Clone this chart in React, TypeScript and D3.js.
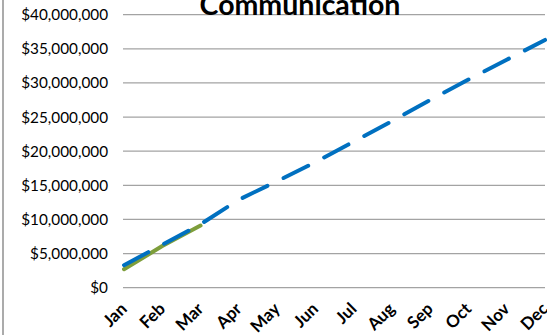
import React from "react";
import * as d3 from "d3";

// Monthly communication budget (USD)
const months = ["Jan", "Feb", "Mar", "Apr", "May", "Jun", "Jul", "Aug", "Sep", "Oct", "Nov", "Dec"];
const forecast = [3.3e6, 6.3e6, 9.3e6, 12.9e6, 15.6e6, 18.4e6, 21.4e6, 24.4e6, 27.5e6, 30.5e6, 33.4e6, 36.3e6];
const actual = [2.7e6, 6.1e6, 9.1e6];
const yTicks = [0, 5e6, 10e6, 15e6, 20e6, 25e6, 30e6, 35e6, 40e6];
const title = "Communication";

const W = 547;
const H = 335;
const FONT = "Lato, 'Open Sans', sans-serif";

export default function App() {
  const x = d3.scalePoint<string>().domain(months).range([124, 545]);
  const y = d3.scaleLinear().domain([0, 40e6]).range([287.7, 14.7]);
  const fmt = d3.format("$,.0f");

  const line = d3
    .line<number>()
    .x((_, i) => x(months[i]) as number)
    .y((d) => y(d));

  const [x0, x1] = x.range();

  return (
    <div style={{ position: "fixed", left: 0, top: 0 }}>
      <svg width={W} height={H} style={{ display: "block", background: "#fff" }}>
        {/* chart frame edge */}
        <line x1={3} x2={3} y1={0} y2={H} stroke="#8f8f8f" strokeWidth={1.5} />

        {/* horizontal gridlines and value labels */}
        {yTicks.map((t) => (
          <g key={t}>
            <line x1={x0 - 1} x2={x1} y1={y(t)} y2={y(t)} stroke="#a3a3a3" strokeWidth={1.2} />
            <text
              x={108}
              y={y(t) + 5.5}
              textAnchor="end"
              fontFamily={FONT}
              fontSize={15.3}
              fill="#000"
            >
              {fmt(t)}
            </text>
          </g>
        ))}

        {/* month labels */}
        {months.map((m) => {
          const px = (x(m) as number) + 4;
          const py = 310;
          return (
            <text
              key={m}
              x={px}
              y={py}
              transform={`rotate(-45 ${px} ${py})`}
              textAnchor="end"
              fontFamily={FONT}
              fontWeight="bold"
              fontSize={17}
              fill="#000"
            >
              {m}
            </text>
          );
        })}

        {/* actual spend */}
        <path
          d={line(actual) ?? ""}
          fill="none"
          stroke="#7e9e3b"
          strokeWidth={4}
          strokeLinecap="round"
          strokeLinejoin="round"
        />

        {/* forecast */}
        <path
          d={line(forecast) ?? ""}
          fill="none"
          stroke="#0070c0"
          strokeWidth={4}
          strokeDasharray="27.5 18"
          strokeLinecap="round"
          strokeLinejoin="round"
        />

        <text
          x={300}
          y={15}
          textAnchor="middle"
          fontFamily={FONT}
          fontWeight="bold"
          fontSize={28.5}
          fill="#000"
        >
          {title}
        </text>
      </svg>
    </div>
  );
}
